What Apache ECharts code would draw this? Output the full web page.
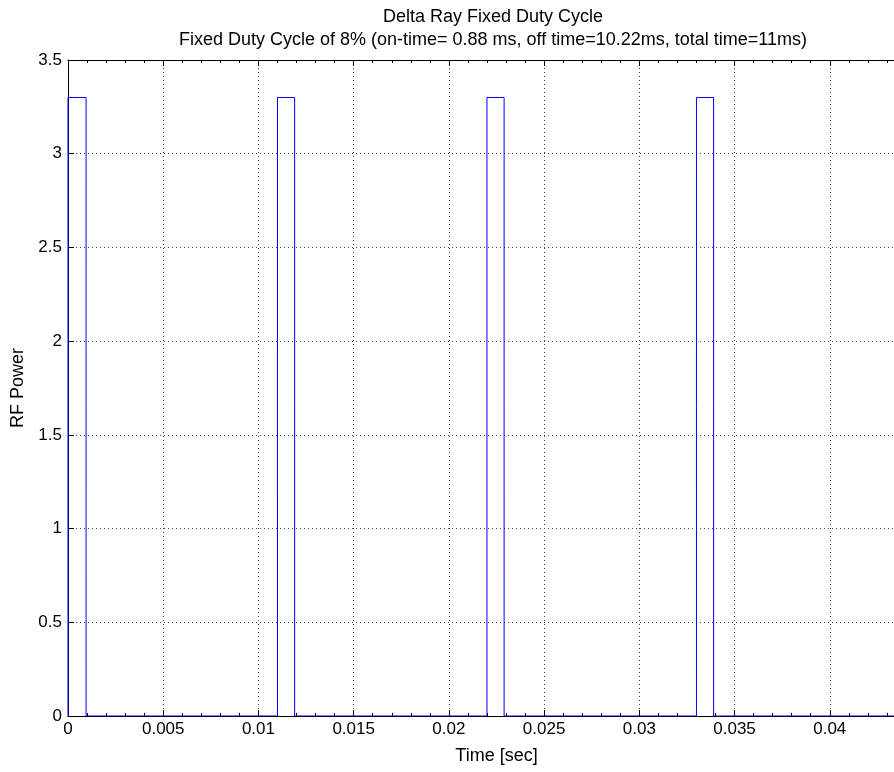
<!DOCTYPE html>
<html><head><meta charset="utf-8">
<script src="https://cdn.jsdelivr.net/npm/echarts@6/dist/echarts.min.js"></script>
<style>html,body{margin:0;padding:0;background:#fff}#c{width:894px;height:772px}</style>
</head><body><div id="c"></div>
<script>
const titleLines = ['Delta Ray Fixed Duty Cycle', 'Fixed Duty Cycle of 8% (on-time= 0.88 ms, off time=10.22ms, total time=11ms)'];
const xLabel = 'Time [sec]';
const yLabel = 'RF Power';
// pulse edges (sec) and amplitude
const pulseStarts = [0, 0.0110, 0.0220, 0.0330];
const pulseEnds = [0.00095, 0.0119, 0.0229, 0.0339];
const pulseLevel = 3.3;
const timeEnd = 0.044;

const pts = [];
for (let i = 0; i < pulseStarts.length; i++) {
  pts.push([pulseStarts[i], 0], [pulseStarts[i], pulseLevel], [pulseEnds[i], pulseLevel], [pulseEnds[i], 0]);
}
pts.push([timeEnd, 0]);

const font = 'Liberation Sans, Arial, sans-serif';
const chart = echarts.init(document.getElementById('c'));
chart.setOption({
  animation: false,
  backgroundColor: '#fff',
  title: [
    {text: titleLines[0], left: 488, top: 3, textAlign: 'center', textStyle: {fontFamily: font, fontSize: 18, fontWeight: 'normal', color: '#000'}},
    {text: titleLines[1], left: 488, top: 26, textAlign: 'center', textStyle: {fontFamily: font, fontSize: 18, fontWeight: 'normal', color: '#000'}}
  ],
  grid: {left: 68, top: 60, width: 857, height: 656, containLabel: false, outerBoundsMode: 'none'},
  xAxis: [{
    type: 'value', min: 0, max: 0.045, interval: 0.005,
    name: xLabel, nameLocation: 'middle', nameGap: 31,
    nameTextStyle: {fontFamily: font, fontSize: 18, color: '#000'},
    axisLine: {lineStyle: {color: '#000', width: 1}},
    axisTick: {inside: true, length: 6, lineStyle: {color: '#000'}},
    minorTick: {show: true, splitNumber: 5, length: 3, lineStyle: {color: '#000'}},
    axisLabel: {fontFamily: font, fontSize: 17, color: '#000', margin: 5,
      formatter: v => String(+v.toFixed(4))},
    splitLine: {show: true, lineStyle: {color: '#444', type: [1, 3], width: 1}}
  }, {
    type: 'value', position: 'top', min: 0, max: 0.045, interval: 0.005,
    axisLine: {show: true, lineStyle: {color: '#000', width: 1}},
    axisTick: {inside: true, length: 6, lineStyle: {color: '#000'}},
    minorTick: {show: true, splitNumber: 5, length: 3, lineStyle: {color: '#000'}},
    axisLabel: {show: false}, splitLine: {show: false}
  }],
  yAxis: {
    type: 'value', min: 0, max: 3.5, interval: 0.5,
    name: yLabel, nameLocation: 'middle', nameGap: 41, nameRotate: 90,
    nameTextStyle: {fontFamily: font, fontSize: 18, color: '#000'},
    axisLine: {show: true, lineStyle: {color: '#000', width: 1}},
    axisTick: {show: true, inside: true, length: 6, lineStyle: {color: '#000'}},
    axisLabel: {fontFamily: font, fontSize: 17, color: '#000', margin: 6, formatter: v => String(v)},
    splitLine: {show: true, lineStyle: {color: '#444', type: [1, 3], width: 1}}
  },
  series: [{
    type: 'line', data: pts, showSymbol: false, symbol: 'none',
    lineStyle: {color: '#0000ff', width: 1}, z: 3
  }]
});
</script></body></html>
